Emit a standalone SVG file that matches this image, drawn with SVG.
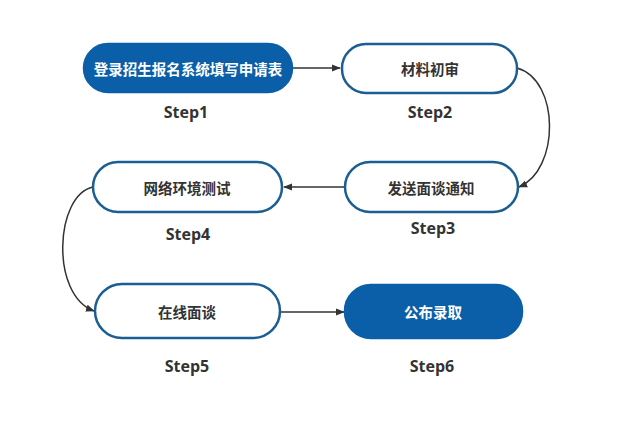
<svg xmlns="http://www.w3.org/2000/svg" width="620" height="440" viewBox="0 0 620 440">
<defs>
<marker id="ah" viewBox="0 0 10 10" refX="9" refY="5" markerWidth="9" markerHeight="9" markerUnits="userSpaceOnUse" orient="auto">
<path d="M0,1 L10,5 L0,9 z" fill="#333"/>
</marker>
<style>
.box{fill:#fff;stroke:#1b5e93;stroke-width:2.5}
.fill{fill:#0b5fa8;stroke:#0b5fa8;stroke-width:2.5}
.t{font-family:"Noto Sans CJK SC","Noto Sans",sans-serif;font-size:14.5px;font-weight:bold;fill:#333;text-anchor:middle;dominant-baseline:central}
.tw{fill:#fff}
.s{font-family:"Open Sans","Noto Sans",sans-serif;font-size:16px;font-weight:bold;fill:#333;text-anchor:middle}
.c{fill:none;stroke:#333;stroke-width:1.5;marker-end:url(#ah)}
</style>
</defs>
<rect width="620" height="440" fill="#fff"/>
<g id="connectors">
<line class="c" x1="292" y1="68" x2="340" y2="68"/>
<path class="c" d="M517,68 C560,80 560,170 519,187"/>
<line class="c" x1="345" y1="187" x2="284" y2="187"/>
<path class="c" d="M93,187 C55,195 50,295 94,311"/>
<line class="c" x1="281" y1="312" x2="344" y2="312"/>
</g>
<g id="node1">
<rect class="fill" x="84" y="44" width="208" height="48" rx="24"/>
<text class="t tw" x="188" y="68">登录招生报名系统填写申请表</text>
<text class="s" x="186" y="118">Step1</text>
</g>
<g id="node2">
<rect class="box" x="342" y="44" width="175" height="49" rx="24"/>
<text class="t" x="430" y="68">材料初审</text>
<text class="s" x="430" y="118">Step2</text>
</g>
<g id="node3">
<rect class="box" x="345" y="162" width="173" height="50" rx="25"/>
<text class="t" x="431" y="187">发送面谈通知</text>
<text class="s" x="433" y="234">Step3</text>
</g>
<g id="node4">
<rect class="box" x="93" y="162" width="189" height="50" rx="25"/>
<text class="t" x="187" y="187">网络环境测试</text>
<text class="s" x="188" y="240">Step4</text>
</g>
<g id="node5">
<rect class="box" x="95" y="284" width="185" height="54" rx="27"/>
<text class="t" x="187" y="311">在线面谈</text>
<text class="s" x="187" y="372">Step5</text>
</g>
<g id="node6">
<rect class="fill" x="345" y="285" width="177" height="53" rx="26"/>
<text class="t tw" x="433" y="311">公布录取</text>
<text class="s" x="432" y="372">Step6</text>
</g>
</svg>
